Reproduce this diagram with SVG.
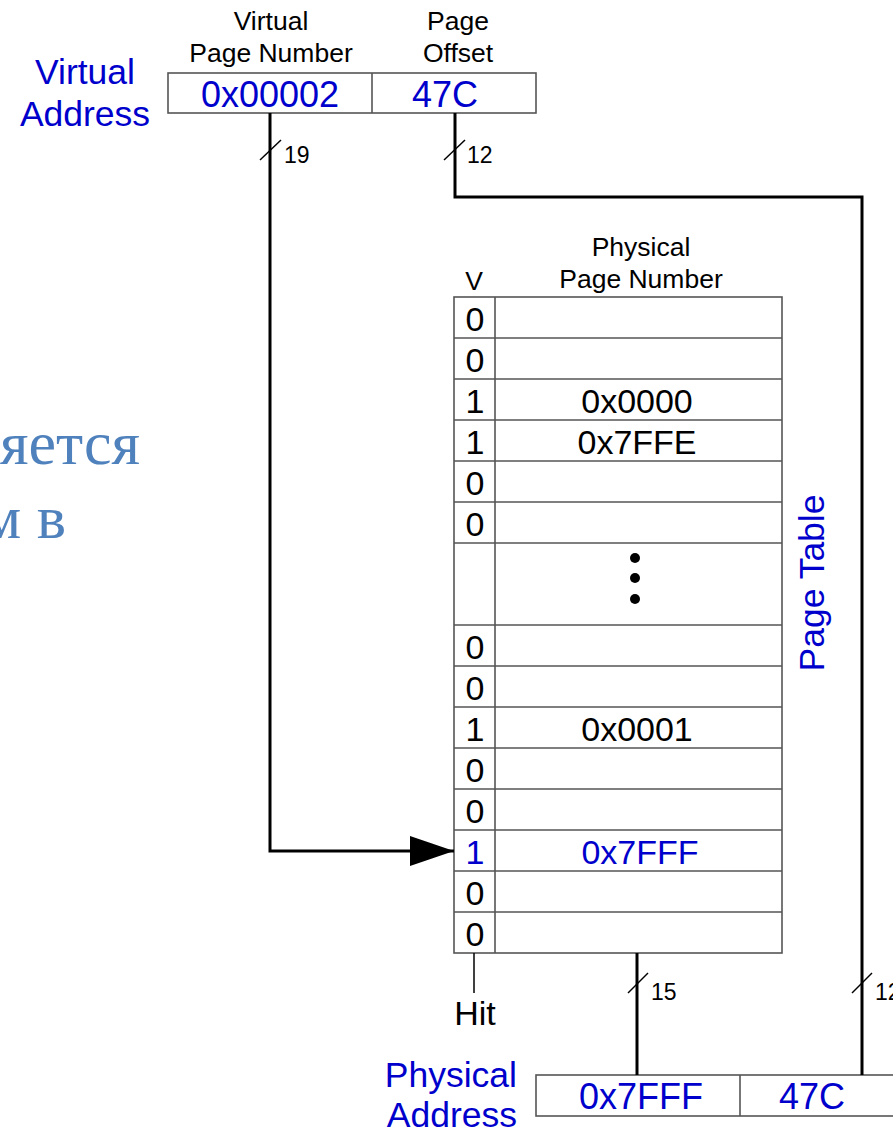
<svg xmlns="http://www.w3.org/2000/svg" width="893" height="1132" viewBox="0 0 893 1132">
<defs>
<style>
text{font-family:"Liberation Sans",Arial,sans-serif;}
.hdr{font-size:26.5px;fill:#000;text-anchor:middle;}
.lbl{font-size:35.5px;fill:#0000CC;}
.val{font-size:36px;fill:#0000CC;text-anchor:middle;}
.cell{font-size:34px;fill:#000;text-anchor:middle;}
.cellb{font-size:34px;fill:#0000CC;text-anchor:middle;}
.num{font-size:23px;fill:#000;}
.box{fill:#fff;stroke:#555;stroke-width:1.6;}
.grid{stroke:#555;stroke-width:1.6;fill:none;}
.wire{stroke:#000;stroke-width:3;fill:none;}
.thin{stroke:#000;stroke-width:1.5;fill:none;}
.ru{font-family:"Liberation Serif","Times New Roman",serif;font-size:62px;fill:#4F81BD;}
</style>
<marker id="arr" markerUnits="userSpaceOnUse" markerWidth="46" markerHeight="32" refX="44" refY="15" orient="auto">
<polygon points="0,0 44,15 0,30" fill="#000"/>
</marker>
</defs>
<rect width="893" height="1132" fill="#fff"/>

<g id="ru-text">
<text class="ru" x="140" y="464" text-anchor="end">яется</text>
<text class="ru" x="66" y="538" text-anchor="end">м в</text>
</g>

<g id="virtual-address">
<text class="lbl" x="85" y="84" text-anchor="middle">Virtual</text>
<text class="lbl" x="85" y="126" text-anchor="middle">Address</text>
<text class="hdr" x="271" y="30">Virtual</text>
<text class="hdr" x="271" y="62">Page Number</text>
<text class="hdr" x="458" y="30">Page</text>
<text class="hdr" x="458" y="62">Offset</text>
<rect class="box" x="168" y="73" width="368" height="40"/>
<line class="grid" x1="372" y1="73" x2="372" y2="113"/>
<text class="val" x="270" y="107">0x00002</text>
<text class="val" x="445" y="107">47C</text>
</g>

<g id="page-table">
<text class="hdr" x="641" y="256">Physical</text>
<text class="hdr" x="641" y="288">Page Number</text>
<text class="hdr" x="474" y="290">V</text>
<rect class="box" x="454" y="297" width="328" height="656"/>
<line class="grid" x1="495" y1="297" x2="495" y2="953"/>
<path class="grid" d="M454 338H782M454 379H782M454 420H782M454 461H782M454 502H782M454 543H782M454 625H782M454 666H782M454 707H782M454 748H782M454 789H782M454 830H782M454 871H782M454 912H782"/>
<text class="cell" x="475" y="331">0</text>
<text class="cell" x="475" y="372">0</text>
<text class="cell" x="475" y="413">1</text>
<text class="cell" x="637" y="413">0x0000</text>
<text class="cell" x="475" y="454">1</text>
<text class="cell" x="637" y="454">0x7FFE</text>
<text class="cell" x="475" y="495">0</text>
<text class="cell" x="475" y="536">0</text>
<circle cx="635" cy="558" r="5" fill="#000"/>
<circle cx="635" cy="578" r="5" fill="#000"/>
<circle cx="635" cy="599" r="5" fill="#000"/>
<text class="cell" x="475" y="659">0</text>
<text class="cell" x="475" y="700">0</text>
<text class="cell" x="475" y="741">1</text>
<text class="cell" x="637" y="741">0x0001</text>
<text class="cell" x="475" y="782">0</text>
<text class="cell" x="475" y="823">0</text>
<text class="cellb" x="475" y="864">1</text>
<text class="cellb" x="640" y="864">0x7FFF</text>
<text class="cell" x="475" y="905">0</text>
<text class="cell" x="475" y="946">0</text>
<text class="lbl" transform="translate(824 583) rotate(-90)" text-anchor="middle" font-size="36">Page Table</text>
</g>

<g id="hit">
<text x="475" y="1025" font-size="34" text-anchor="middle" fill="#000">Hit</text>
</g>

<g id="physical-address">
<text class="lbl" x="517" y="1087" text-anchor="end">Physical</text>
<text class="lbl" x="517" y="1127" text-anchor="end">Address</text>
<rect class="box" x="536" y="1075" width="370" height="41"/>
<line class="grid" x1="740" y1="1075" x2="740" y2="1116"/>
<text class="val" x="641" y="1109">0x7FFF</text>
<text class="val" x="812" y="1109">47C</text>
</g>

<g id="connectors">
<path class="wire" d="M270 113V851H454" marker-end="url(#arr)"/>
<path class="wire" d="M455 113V197H862V1075"/>
<path class="wire" d="M637 953V1075"/>
<path class="thin" d="M474 953V993"/>
<line class="thin" x1="260" y1="160" x2="281" y2="140"/>
<text class="num" x="284" y="163">19</text>
<line class="thin" x1="444" y1="160" x2="465" y2="140"/>
<text class="num" x="467" y="163">12</text>
<line class="thin" x1="628" y1="993" x2="648" y2="973"/>
<text class="num" x="651" y="1000">15</text>
<line class="thin" x1="852" y1="993" x2="872" y2="973"/>
<text class="num" x="875" y="1000">12</text>
</g>
</svg>
